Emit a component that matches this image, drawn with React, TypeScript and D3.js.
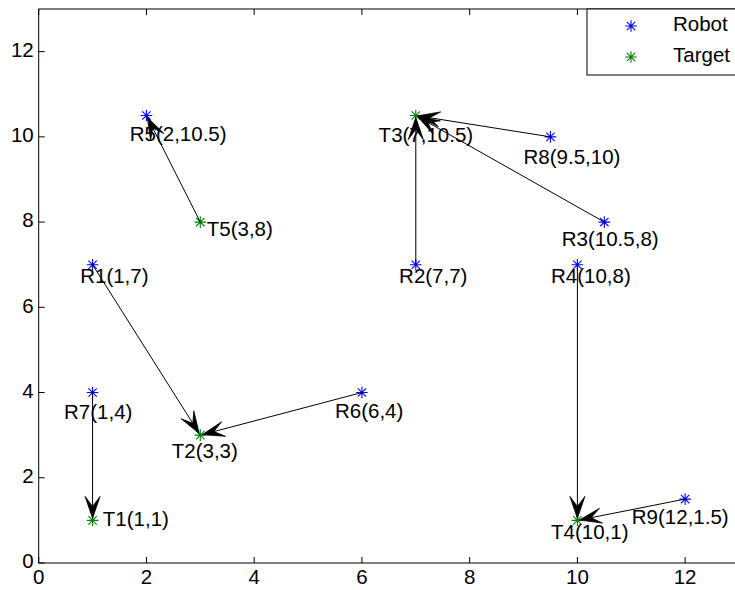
import React from "react";
import * as d3 from "d3";

// Robot start positions
const robotNames = ["R1", "R2", "R3", "R4", "R5", "R6", "R7", "R8", "R9"];
const robotX = [1, 7, 10.5, 10, 2, 6, 1, 9.5, 12];
const robotY = [7, 7, 8, 7, 10.5, 4, 4, 10, 1.5];
const robotLabels = ["R1(1,7)", "R2(7,7)", "R3(10.5,8)", "R4(10,8)", "R5(2,10.5)", "R6(6,4)", "R7(1,4)", "R8(9.5,10)", "R9(12,1.5)"];
const robotLabelX = [0.77, 6.69, 9.71, 9.51, 1.69, 5.5, 0.47, 9.0, 11.01];
const robotLabelY = [6.7, 6.7, 7.56, 6.7, 10.02, 3.52, 3.5, 9.5, 1.04];

// Target positions
const targetNames = ["T1", "T2", "T3", "T4", "T5"];
const targetX = [1, 3, 7, 10, 3];
const targetY = [1, 3, 10.5, 1, 8];
const targetLabels = ["T1(1,1)", "T2(3,3)", "T3(7,10.5)", "T4(10,1)", "T5(3,8)"];
const targetLabelX = [1.19, 2.47, 6.31, 9.51, 3.12];
const targetLabelY = [1.0, 2.6, 10.0, 0.7, 7.8];

// Assignment arrows: [from, to]
const arrowFrom = ["R1", "R2", "R3", "R4", "T5", "R6", "R7", "R8", "R9"];
const arrowTo = ["T2", "T3", "T3", "T4", "R5", "T2", "T1", "T3", "T4"];

const xTicks = [0, 2, 4, 6, 8, 10, 12];
const yTicks = [0, 2, 4, 6, 8, 10, 12];

const W = 735;
const H = 590;
const left = 38.7;
const right = 739;
const top = 9;
const bottom = 563;
const FONT = "Arial, 'Liberation Sans', Helvetica, sans-serif";
const FS = 20.5;

const x = d3.scaleLinear().domain([0, 13]).range([left, right]);
const y = d3.scaleLinear().domain([0, 13]).range([bottom, top]);

function Star({ cx, cy, color }: { cx: number; cy: number; color: string }) {
  const r = 5.8;
  const d = r * 0.72;
  const p = d3.path();
  p.moveTo(cx - r, cy); p.lineTo(cx + r, cy);
  p.moveTo(cx, cy - r); p.lineTo(cx, cy + r);
  p.moveTo(cx - d, cy - d); p.lineTo(cx + d, cy + d);
  p.moveTo(cx - d, cy + d); p.lineTo(cx + d, cy - d);
  return <path d={p.toString()} stroke={color} strokeWidth={1.1} fill="none" />;
}

function pos(name: string): [number, number] {
  const ri = robotNames.indexOf(name);
  if (ri >= 0) return [x(robotX[ri]), y(robotY[ri])];
  const ti = targetNames.indexOf(name);
  return [x(targetX[ti]), y(targetY[ti])];
}

function Arrow({ from, to }: { from: string; to: string }) {
  const [x0, y0] = pos(from);
  const [x1, y1] = pos(to);
  const ang = Math.atan2(y1 - y0, x1 - x0);
  const gap = 2;
  const tx = x1 - gap * Math.cos(ang);
  const ty = y1 - gap * Math.sin(ang);
  const L = 22, Wd = 7.5, N = 12;
  const c = Math.cos(ang), s = Math.sin(ang);
  const pt = (u: number, v: number) => [tx + u * c - v * s, ty + u * s + v * c];
  const head = d3.path();
  const a = pt(0, 0), b = pt(-L, -Wd), n = pt(-N, 0), e = pt(-L, Wd);
  head.moveTo(a[0], a[1]);
  head.lineTo(b[0], b[1]);
  head.lineTo(n[0], n[1]);
  head.lineTo(e[0], e[1]);
  head.closePath();
  const ln = pt(-N, 0);
  return (
    <g>
      <line x1={x0} y1={y0} x2={ln[0]} y2={ln[1]} stroke="#000" strokeWidth={1} />
      <path d={head.toString()} fill="#000" stroke="#000" strokeWidth={0.8} strokeLinejoin="round" />
    </g>
  );
}

export default function App() {
  return (
    <svg width={W} height={H} style={{ position: "absolute", left: 0, top: 0, background: "#fff" }} fontFamily={FONT}>
      <rect x={0} y={0} width={W} height={H} fill="#fff" />
      {/* axes box */}
      <rect x={left} y={top} width={right - left} height={bottom - top} fill="#fff" stroke="#000" strokeWidth={1} />
      {xTicks.map((t) => (
        <g key={"xt" + t}>
          <line x1={x(t)} x2={x(t)} y1={bottom} y2={bottom - 6} stroke="#000" />
          <line x1={x(t)} x2={x(t)} y1={top} y2={top + 6} stroke="#000" />
          <text x={x(t)} y={bottom + 16} fontSize={FS} textAnchor="middle" dominantBaseline="middle">{t}</text>
        </g>
      ))}
      {yTicks.map((t) => (
        <g key={"yt" + t}>
          <line x1={left} x2={left + 6} y1={y(t)} y2={y(t)} stroke="#000" />
          <text x={left - 5} y={y(t)} fontSize={FS} textAnchor="end" dominantBaseline="middle">{t}</text>
        </g>
      ))}
      {/* markers */}
      {robotNames.map((n, i) => (
        <Star key={n} cx={x(robotX[i])} cy={y(robotY[i])} color="#0000ff" />
      ))}
      {targetNames.map((n, i) => (
        <Star key={n} cx={x(targetX[i])} cy={y(targetY[i])} color="#008000" />
      ))}
      {/* labels */}
      {robotLabels.map((l, i) => (
        <text key={l} x={x(robotLabelX[i])} y={y(robotLabelY[i])} fontSize={FS} dominantBaseline="middle">{l}</text>
      ))}
      {targetLabels.map((l, i) => (
        <text key={l} x={x(targetLabelX[i])} y={y(targetLabelY[i])} fontSize={FS} dominantBaseline="middle">{l}</text>
      ))}
      {/* arrows */}
      {arrowFrom.map((f, i) => (
        <Arrow key={f + arrowTo[i]} from={f} to={arrowTo[i]} />
      ))}
      {/* legend */}
      <rect x={587} y={top} width={160} height={75 - top} fill="#fff" stroke="#000" strokeWidth={1} />
      <Star cx={631} cy={26} color="#0000ff" />
      <text x={673} y={26} fontSize={FS} dominantBaseline="middle">Robot</text>
      <Star cx={631} cy={57} color="#008000" />
      <text x={673} y={57} fontSize={FS} dominantBaseline="middle">Target</text>
    </svg>
  );
}
